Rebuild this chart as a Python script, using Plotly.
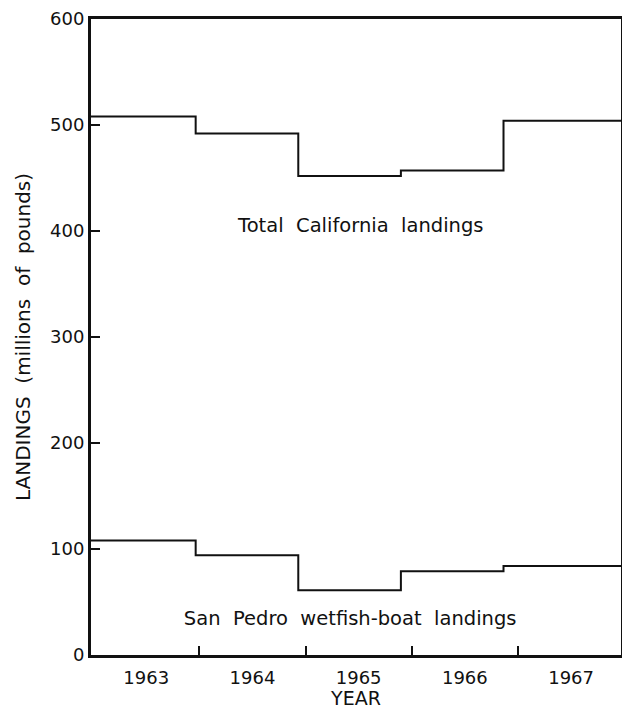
import plotly.graph_objects as go

# Annual landings, millions of pounds
years = [1963, 1964, 1965, 1966, 1967]
total_california = [508, 492, 452, 457, 504]
san_pedro_wetfish = [108, 94, 61, 79, 84]

y_ticks = [0, 100, 200, 300, 400, 500, 600]

# in-plot series labels: text, x (year), y (millions of pounds)
label_text = ["Total  California  landings", "San  Pedro  wetfish-boat  landings"]
label_x = [1965.02, 1964.92]
label_y = [404, 33]

FONT = "DejaVu Sans"
INK = "#111111"

# x limits of the frame (years) for the labelled axis
x_lo, x_hi = 1962.48, 1967.47
# the step traces sit on their own, slightly compressed, year scale
s_lo, s_hi = 1962.48, 1967.645


def step_xy(vals):
    """Year-long steps, running from frame edge to frame edge."""
    edges = [s_lo] + [y + 0.5 for y in years[:-1]] + [s_hi]
    xs, ys = [], []
    for i, v in enumerate(vals):
        xs += [edges[i], edges[i + 1]]
        ys += [v, v]
    return xs, ys


fig = go.Figure()

# series labels, on the labelled year axis
fig.add_trace(go.Scatter(
    x=label_x, y=label_y, mode="text", text=label_text,
    textposition="middle center",
    textfont=dict(family=FONT, size=19.5, color=INK),
    showlegend=False, hoverinfo="skip",
))

for series in (total_california, san_pedro_wetfish):
    xs, ys = step_xy(series)
    fig.add_trace(go.Scatter(
        x=xs, y=ys, mode="lines", xaxis="x2",
        line=dict(color=INK, width=2, shape="linear"),
        showlegend=False, hoverinfo="skip",
    ))

fig.update_layout(
    width=622, height=709,
    margin=dict(l=91, r=1, t=19, b=54),
    paper_bgcolor="white", plot_bgcolor="white",
    font=dict(family=FONT, size=17, color=INK),
    xaxis=dict(
        range=[x_lo, x_hi], automargin=False,
        tickmode="array", tickvals=years, ticktext=[str(y) for y in years],
        ticks="inside", ticklen=0, ticklabelstandoff=4,
        minor=dict(tickmode="array", tickvals=[y + 0.5 for y in years[:-1]],
                   ticks="inside", ticklen=9, tickwidth=1.5, tickcolor=INK),
        showgrid=False, zeroline=False,
        showline=True, linecolor=INK, linewidth=3, mirror=True,
        tickfont=dict(family=FONT, size=18, color=INK),
        title=dict(text="YEAR", standoff=12,
                   font=dict(family=FONT, size=19, color=INK)),
    ),
    xaxis2=dict(range=[s_lo, s_hi], overlaying="x", visible=False),
    yaxis=dict(
        range=[0, 600], automargin=False,
        tickmode="array", tickvals=y_ticks, ticktext=[str(v) for v in y_ticks],
        ticks="inside", ticklen=9, tickwidth=1.5, tickcolor=INK,
        showgrid=False, zeroline=False,
        showline=True, linecolor=INK, linewidth=3, mirror=True,
        tickfont=dict(family=FONT, size=18, color=INK),
        title=dict(text="LANDINGS  (millions  of  pounds)", standoff=15,
                   font=dict(family=FONT, size=20, color=INK)),
    ),
)

fig.write_html("out.html")
